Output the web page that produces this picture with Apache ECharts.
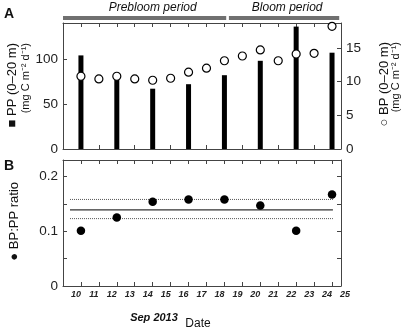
<!DOCTYPE html>
<html>
<head>
<meta charset="utf-8">
<script src="https://cdn.jsdelivr.net/npm/echarts@6/dist/echarts.min.js"></script>
<style>
  html, body { margin: 0; padding: 0; background: #fff; }
  #main { width: 403px; height: 332px; }
</style>
</head>
<body>
<div id="main"></div>
<script>
// days of Sep 2013
var bpDays = [10, 11, 12, 13, 14, 15, 16, 17, 18, 19, 20, 21, 22, 23, 24];
var bp = [10.8, 10.4, 10.8, 10.4, 10.2, 10.5, 11.4, 12.0, 13.1, 13.8, 14.7, 13.1, 14.1, 14.2, 18.2];
var ppDays = [10, 12, 14, 16, 18, 20, 22, 24];
var pp = [104, 84, 67, 72, 82, 98, 136, 107];
var ratio = [0.101, 0.125, 0.154, 0.158, 0.158, 0.147, 0.101, 0.167];
// mean and spread of the ratio
var ratioMean = 0.139;
var ratioHigh = 0.158;
var ratioLow = 0.123;
var lineSpan = [9.39, 24.05];
var dateLabels = [10, 11, 12, 13, 14, 15, 16, 17, 18, 19, 20, 21, 22, 23, 24, 25];
var periods = [
  { name: 'Prebloom period', from: 9, to: 18.1, labelAt: 14.0 },
  { name: 'Bloom period', from: 18.25, to: 24.4, labelAt: 21.5 }
];

var FONT = '"Liberation Sans", Arial, sans-serif';
var AXIS_COLOR = '#444';

function xAx(grid, pos) {
  return {
    type: 'value', gridIndex: grid, position: pos,
    min: 9, max: 24.5, interval: 1,
    axisLine: { onZero: false, lineStyle: { color: AXIS_COLOR, width: 1 } },
    axisTick: { inside: true, length: 4, lineStyle: { color: AXIS_COLOR } },
    axisLabel: { show: false },
    splitLine: { show: false }
  };
}

function yAx(grid, pos, max, interval, fmt) {
  return {
    type: 'value', gridIndex: grid, position: pos,
    min: 0, max: max, interval: interval,
    axisLine: { show: true, onZero: false, lineStyle: { color: AXIS_COLOR, width: 1 } },
    axisTick: { show: true, inside: true, length: 4, lineStyle: { color: AXIS_COLOR } },
    axisLabel: fmt ? { show: true, fontSize: 13.5, fontFamily: FONT, color: '#222', margin: 5, formatter: fmt, showMaxLabel: false } : { show: false },
    splitLine: { show: false }
  };
}

var chart = echarts.init(document.getElementById('main'));

var option = {
  animation: false,
  grid: [
    { left: 63, width: 278, top: 23, height: 126 },
    { left: 63, width: 278, top: 160, height: 126 },
    { left: 63, width: 296, top: 160, height: 126 }
  ],
  xAxis: [
    xAx(0, 'bottom'), xAx(0, 'top'),
    xAx(1, 'bottom'), xAx(1, 'top'),
    {
      type: 'value', gridIndex: 2, position: 'bottom',
      min: 9, max: 25.5, interval: 1,
      axisLine: { show: false, onZero: false },
      axisTick: { show: false },
      splitLine: { show: false },
      axisLabel: {
        show: true, fontSize: 9, fontWeight: 'bold', fontStyle: 'italic',
        fontFamily: FONT, color: '#222', margin: 4, padding: [0, 10, 0, 0],
        formatter: function (v) { return dateLabels.indexOf(v) >= 0 ? String(v) : ''; }
      }
    }
  ],
  yAxis: [
    yAx(0, 'left', 140, 50, function (v) { return v % 50 === 0 ? String(v) : ''; }),
    yAx(0, 'right', 18.7, 5, function (v) { return v % 5 === 0 ? String(v) : ''; }),
    yAx(1, 'left', 0.23, 0.05, function (v) {
      var t = Math.round(v * 100);
      return (t % 10 === 0 && t <= 20) ? String(t / 100) : '';
    }),
    yAx(1, 'right', 0.23, 0.05, null),
    { type: 'value', gridIndex: 2, show: false, min: 0, max: 1 }
  ],
  series: [
    {
      type: 'bar', xAxisIndex: 0, yAxisIndex: 0, barWidth: 5,
      itemStyle: { color: '#000' },
      data: ppDays.map(function (d, i) { return [d, pp[i]]; })
    },
    {
      type: 'scatter', xAxisIndex: 0, yAxisIndex: 1, symbolSize: 8, z: 5,
      itemStyle: { color: '#fff', borderColor: '#000', borderWidth: 1.2, opacity: 1 },
      data: bpDays.map(function (d, i) { return [d, bp[i]]; })
    },
    {
      type: 'line', xAxisIndex: 2, yAxisIndex: 2, symbol: 'none',
      lineStyle: { color: '#333', width: 1.2 },
      data: [[lineSpan[0], ratioMean], [lineSpan[1], ratioMean]]
    },
    {
      type: 'line', xAxisIndex: 2, yAxisIndex: 2, symbol: 'none',
      lineStyle: { color: '#555', width: 1, type: 'dotted' },
      data: [[lineSpan[0], ratioHigh], [lineSpan[1], ratioHigh]]
    },
    {
      type: 'line', xAxisIndex: 2, yAxisIndex: 2, symbol: 'none',
      lineStyle: { color: '#555', width: 1, type: 'dotted' },
      data: [[lineSpan[0], ratioLow], [lineSpan[1], ratioLow]]
    },
    {
      type: 'scatter', xAxisIndex: 2, yAxisIndex: 2, symbolSize: 8.5, z: 5,
      itemStyle: { color: '#000', opacity: 1 },
      data: ppDays.map(function (d, i) { return [d, ratio[i]]; })
    }
  ]
};
chart.setOption(option);

// text and period bands
function px(v) { return chart.convertToPixel({ xAxisIndex: 0 }, v); }

function vText(x, y, txt, size) {
  return {
    type: 'text', x: x, y: y, rotation: Math.PI / 2,
    style: { text: txt, fontSize: size, fontFamily: FONT, fill: '#111', align: 'right', verticalAlign: 'middle' }
  };
}

var g = [
  { type: 'text', x: 4, y: 14, style: { text: 'A', fontSize: 14, fontWeight: 'bold', fontFamily: FONT, fill: '#111', verticalAlign: 'middle' } },
  { type: 'text', x: 4, y: 166, style: { text: 'B', fontSize: 14, fontWeight: 'bold', fontFamily: FONT, fill: '#111', verticalAlign: 'middle' } },
  vText(12, 43, '■ PP (0–20 m)', 13),
  vText(26, 43, '(mg C m⁻² d⁻¹)', 11),
  vText(384, 42, '○ BP (0–20 m)', 13),
  vText(396, 42, '(mg C m⁻² d⁻¹)', 11),
  vText(14, 182, '● BP:PP ratio', 13),
  { type: 'text', x: 154, y: 318, style: { text: 'Sep 2013', fontSize: 11, fontWeight: 'bold', fontStyle: 'italic', fontFamily: FONT, fill: '#111', align: 'center', verticalAlign: 'middle' } },
  { type: 'text', x: 198, y: 324, style: { text: 'Date', fontSize: 12, fontFamily: FONT, fill: '#111', align: 'center', verticalAlign: 'middle' } }
];
periods.forEach(function (p) {
  var x0 = px(p.from), x1 = px(p.to);
  g.push({ type: 'rect', shape: { x: x0, y: 16, width: x1 - x0, height: 4 }, style: { fill: '#707070' } });
  g.push({ type: 'text', x: px(p.labelAt), y: 8, style: { text: p.name, fontSize: 12, fontStyle: 'italic', fontFamily: FONT, fill: '#111', align: 'center', verticalAlign: 'middle' } });
});
chart.setOption({ graphic: g });
</script>
</body>
</html>
